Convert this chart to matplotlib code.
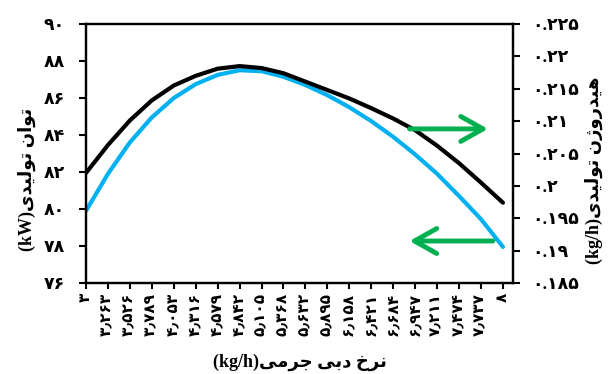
import matplotlib
matplotlib.use('Agg')
import matplotlib.pyplot as plt

# داده ها (خوانده شده از نمودار)
mass_flow = [3, 3.263, 3.526, 3.789, 4.053, 4.316, 4.579, 4.842, 5.105, 5.368,
             5.632, 5.895, 6.158, 6.421, 6.684, 6.947, 7.211, 7.474, 7.737, 8]
power_kw = [79.9, 81.9, 83.6, 84.95, 86.0, 86.75, 87.25, 87.5, 87.45, 87.15,
            86.7, 86.15, 85.5, 84.75, 83.9, 82.95, 81.9, 80.7, 79.45, 77.95]
hydrogen = [0.2020, 0.2063, 0.2101, 0.2132, 0.2155, 0.2170, 0.2181, 0.2185, 0.2182, 0.2174,
            0.2161, 0.2148, 0.2135, 0.2120, 0.2104, 0.2086, 0.2062, 0.2035, 0.2005, 0.1974]
left_ticks = [76, 78, 80, 82, 84, 86, 88, 90]
right_ticks = [0.185, 0.19, 0.195, 0.2, 0.205, 0.21, 0.215, 0.22, 0.225]

# حروف فارسی: (تنها، پایانی، آغازی، میانی)
FORMS = {
    'ا': ('\uFE8D', '\uFE8E', None, None),
    'ب': ('\uFE8F', '\uFE90', '\uFE91', '\uFE92'),
    'ت': ('\uFE95', '\uFE96', '\uFE97', '\uFE98'),
    'ج': ('\uFE9D', '\uFE9E', '\uFE9F', '\uFEA0'),
    'خ': ('\uFEA5', '\uFEA6', '\uFEA7', '\uFEA8'),
    'د': ('\uFEA9', '\uFEAA', None, None),
    'ر': ('\uFEAD', '\uFEAE', None, None),
    'ژ': ('\uFB8A', '\uFB8B', None, None),
    'ل': ('\uFEDD', '\uFEDE', '\uFEDF', '\uFEE0'),
    'م': ('\uFEE1', '\uFEE2', '\uFEE3', '\uFEE4'),
    'ن': ('\uFEE5', '\uFEE6', '\uFEE7', '\uFEE8'),
    'ه': ('\uFEE9', '\uFEEA', '\uFEEB', '\uFEEC'),
    'و': ('\uFEED', '\uFEEE', None, None),
    'ی': ('\uFEEF', '\uFEF0', '\uFEF3', '\uFEF4'),
}

def shape(text):
    # شکل دادن ساده حروف و معکوس کردن برای نمایش راست به چپ
    out = []
    for i, ch in enumerate(text):
        if ch not in FORMS:
            out.append(ch)
            continue
        prev = text[i - 1] if i > 0 else ''
        nxt = text[i + 1] if i < len(text) - 1 else ''
        join_prev = prev in FORMS and FORMS[prev][2] is not None
        join_next = nxt in FORMS and FORMS[ch][2] is not None
        if join_prev and join_next:
            out.append(FORMS[ch][3])
        elif join_prev:
            out.append(FORMS[ch][1])
        elif join_next:
            out.append(FORMS[ch][2])
        else:
            out.append(FORMS[ch][0])
    return ''.join(reversed(out))

fa_digits = str.maketrans('0123456789', '۰۱۲۳۴۵۶۷۸۹')

def fa_num(v, sep='.'):
    s = ('%g' % v).translate(fa_digits)
    return s.replace('.', sep)

fam = ['Liberation Serif', 'DejaVu Sans']
plt.rcParams['font.family'] = fam
plt.rcParams['font.weight'] = 'bold'

fig = plt.figure(figsize=(6.09, 3.74), dpi=100)
ax = fig.add_axes([0.1412, 0.2433, 0.7011, 0.6925])
ax2 = ax.twinx()

ax.plot(mass_flow, power_kw, color='#00B0F0', linewidth=3,
        solid_capstyle='round', solid_joinstyle='round')
ax2.plot(mass_flow, hydrogen, color='black', linewidth=3,
         solid_capstyle='round', solid_joinstyle='round')

ax.set_xlim(mass_flow[0], mass_flow[-1] + 0.12)
ax.set_ylim(76, 90)
ax2.set_ylim(0.185, 0.225)

ax.set_xticks(mass_flow)
ax.set_xticklabels([fa_num(v, '٫') for v in mass_flow], rotation=90,
                   fontsize=11, fontweight='bold')
ax.set_yticks(left_ticks)
ax.set_yticklabels([fa_num(v) for v in left_ticks], fontsize=12.5, fontweight='bold')
ax2.set_yticks(right_ticks)
ax2.set_yticklabels([fa_num(v) for v in right_ticks], fontsize=12.5, fontweight='bold')

for a in (ax, ax2):
    for s in a.spines.values():
        s.set_linewidth(1.6)
ax.tick_params(axis='x', length=4, width=1.5, pad=3)
ax.tick_params(axis='y', length=5, width=1.5, pad=10)
ax2.tick_params(axis='y', length=5, width=1.5, pad=9)

ax.set_ylabel('(kW)' + shape('توان تولیدی'), fontsize=13, fontweight='bold', va='center')
ax.yaxis.set_label_coords(-0.138, 0.40)
ax2.set_ylabel('(kg/h)' + shape('هیدروژن تولیدی'), fontsize=13, fontweight='bold',
               va='center', rotation=90)
ax2.yaxis.set_label_coords(1.19, 0.436)
ax.set_xlabel('(kg/h)' + shape('نرخ دبی جرمی'), fontsize=13, fontweight='bold', va='center')
ax.xaxis.set_label_coords(0.5, -0.305)

# پیکان های سبز
arrow = dict(arrowstyle='->,head_length=1.6,head_width=0.9', mutation_scale=10,
             color='#00B050', linewidth=3.5, shrinkA=0, shrinkB=0,
             capstyle='round', joinstyle='round')
ax2.annotate('', xy=(7.82, 0.2088), xytext=(6.88, 0.2088), arrowprops=arrow)
ax.annotate('', xy=(6.88, 78.27), xytext=(7.88, 78.27), arrowprops=arrow)

fig.savefig('out.png', dpi=100)
